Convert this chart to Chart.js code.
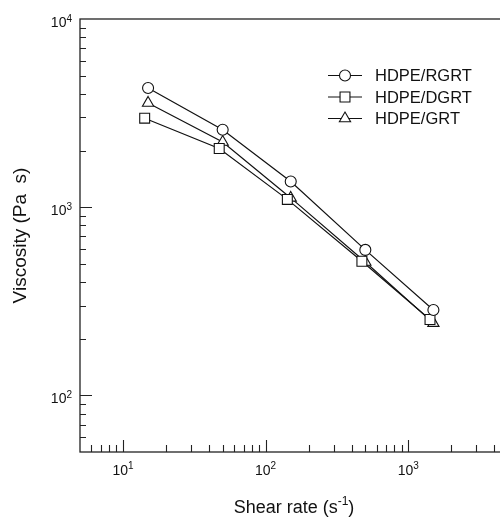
<!DOCTYPE html>
<html>
<head>
<meta charset="utf-8">
<script src="https://cdn.jsdelivr.net/npm/chart.js@4.4.1/dist/chart.umd.min.js"></script>
<style>
  html, body { margin:0; padding:0; background:#fff; overflow:hidden; }
  #wrap { width:500px; height:518px; overflow:hidden; }
  canvas { display:block; }
</style>
</head>
<body>
<div id="wrap"><canvas id="viscChart" width="520" height="518"></canvas></div>
<script>
// Shear rate (1/s) and viscosity (Pa s)
const shearRate     = [15, 50, 150, 500, 1500];
const shearRateDGRT = [14.2, 47.3, 142, 473, 1420];
const viscRGRT = [4300, 2580, 1370, 593, 284];
const viscDGRT = [2970, 2050, 1100, 516, 253];
const viscGRT  = [3580, 2220, 1120, 511, 242];
const seriesNames = ['HDPE/RGRT', 'HDPE/DGRT', 'HDPE/GRT'];
const xDecades = [1, 2, 3];     // labelled powers of ten
const yDecades = [2, 3, 4];
const xRange = [5, 5000];
const yRange = [50, 10000];

(function(){
  const font = (size) => `${size}px "Liberation Sans", Arial, sans-serif`;
  const ink = '#111';

  const pts = (xs, ys) => xs.map((x, i) => ({x, y: ys[i]}));
  const series = (label, data, style, r) => ({
    label, data, showLine:true, fill:false, tension:0,
    borderColor:ink, borderWidth:1.2,
    pointStyle:style, pointRadius:r, pointHoverRadius:r,
    pointBackgroundColor:'#fff', pointBorderColor:ink, pointBorderWidth:1.1
  });

  // "10" with raised exponent
  function pow10(ctx, exp, x, y, align, raise){
    ctx.font = font(14);
    const bw = ctx.measureText('10').width;
    ctx.font = font(10);
    const ew = ctx.measureText(String(exp)).width;
    const left = align === 'right' ? x - bw - ew : x - (bw + ew) / 2;
    ctx.textAlign = 'left';
    ctx.textBaseline = 'alphabetic';
    ctx.font = font(14);
    ctx.fillText('10', left, y);
    ctx.font = font(10);
    ctx.fillText(String(exp), left + bw, y - raise);
  }

  const axesPlugin = {
    id:'logAxes',
    afterDraw(chart){
      const {ctx, chartArea:a, scales:{x, y}} = chart;
      ctx.save();
      ctx.strokeStyle = '#222';
      ctx.fillStyle = ink;
      ctx.lineWidth = 1.3;
      ctx.strokeRect(a.left, a.top, a.right - a.left, a.bottom - a.top);

      // inward ticks, majors at decades, minors at 2..9
      ctx.lineWidth = 1.1;
      ctx.beginPath();
      for (let d = -1; d <= 4; d++){
        for (let m = 1; m <= 9; m++){
          const v = m * Math.pow(10, d);
          const len = m === 1 ? 12 : 7;
          if (v > xRange[0] && v < xRange[1]){
            const px = Math.round(x.getPixelForValue(v)) + 0.5;
            ctx.moveTo(px, a.bottom); ctx.lineTo(px, a.bottom - len);
          }
          if (v > yRange[0] && v < yRange[1]){
            const py = Math.round(y.getPixelForValue(v)) + 0.5;
            ctx.moveTo(a.left, py); ctx.lineTo(a.left + (m === 1 ? 12 : 6), py);
          }
        }
      }
      ctx.stroke();

      xDecades.forEach(e => pow10(ctx, e, x.getPixelForValue(Math.pow(10, e)), a.bottom + 23, 'center', 6));
      yDecades.forEach(e => pow10(ctx, e, a.left - 8, y.getPixelForValue(Math.pow(10, e)) + 7.5, 'right', 5));

      // x title with s^-1
      ctx.textBaseline = 'alphabetic';
      ctx.textAlign = 'left';
      const t1 = 'Shear rate (s', t2 = '-1', t3 = ')';
      ctx.font = font(18); const w1 = ctx.measureText(t1).width, w3 = ctx.measureText(t3).width;
      ctx.font = font(12); const w2 = ctx.measureText(t2).width;
      let tx = (a.left + a.right) / 2 - (w1 + w2 + w3) / 2;
      const ty = 513;
      ctx.font = font(18); ctx.fillText(t1, tx, ty);
      ctx.font = font(12); ctx.fillText(t2, tx + w1, ty - 8);
      ctx.font = font(18); ctx.fillText(t3, tx + w1 + w2, ty);

      // y title
      ctx.save();
      ctx.translate(21, (a.top + a.bottom) / 2);
      ctx.rotate(-Math.PI / 2);
      ctx.textAlign = 'center';
      ctx.textBaseline = 'middle';
      ctx.font = font(19);
      ctx.fillText('Viscosity (Pa  s)', 0, 0);
      ctx.restore();

      // legend: line through marker, then name
      const rows = [75.5, 97, 118.5];
      chart.data.datasets.forEach((ds, i) => {
        const ly = rows[i];
        ctx.strokeStyle = ink;
        ctx.lineWidth = 1.2;
        ctx.beginPath(); ctx.moveTo(328, ly); ctx.lineTo(362, ly); ctx.stroke();
        ctx.fillStyle = '#fff';
        ctx.lineWidth = 1.1;
        Chart.helpers.drawPoint(ctx, {pointStyle:ds.pointStyle, radius:ds.pointRadius, borderWidth:1.1, rotation:0}, 345, ly);
        ctx.fillStyle = ink;
        ctx.font = font(16.5);
        ctx.textAlign = 'left';
        ctx.textBaseline = 'middle';
        ctx.fillText(ds.label, 375, ly + 1);
      });
      ctx.restore();
    }
  };

  new Chart(document.getElementById('viscChart'), {
    type:'scatter',
    data:{
      datasets:[
        series(seriesNames[0], pts(shearRate, viscRGRT), 'circle', 5.5),
        series(seriesNames[1], pts(shearRateDGRT, viscDGRT), 'rect', 7),
        series(seriesNames[2], pts(shearRate, viscGRT), 'triangle', 6.5)
      ]
    },
    options:{
      responsive:false,
      animation:false,
      devicePixelRatio:1,
      layout:{padding:{left:80, top:19, right:12, bottom:66}},
      plugins:{legend:{display:false}, tooltip:{enabled:false}},
      scales:{
        x:{type:'logarithmic', min:xRange[0], max:xRange[1], display:false},
        y:{type:'logarithmic', min:yRange[0], max:yRange[1], display:false}
      }
    },
    plugins:[axesPlugin]
  });
})();
</script>
</body>
</html>
